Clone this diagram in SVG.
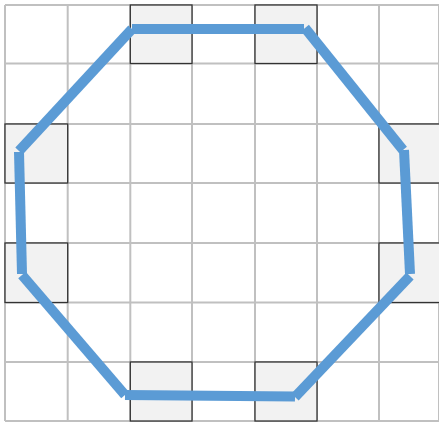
<svg xmlns="http://www.w3.org/2000/svg" width="439" height="423" viewBox="0 0 439 423">
<style>
.grid{stroke:#c0c0c0;stroke-width:2;fill:none}
.cell{fill:#f2f2f2;stroke:#333;stroke-width:1.3}
.edge{stroke:#5b9bd5;stroke-width:10;stroke-linecap:butt;fill:none}
</style>
<rect width="439" height="423" fill="#fff"/>
<g id="grid" class="grid">
<line x1="5" y1="5" x2="5" y2="421"/>
<line x1="67.7" y1="5" x2="67.7" y2="421"/>
<line x1="130.3" y1="5" x2="130.3" y2="421"/>
<line x1="192" y1="5" x2="192" y2="421"/>
<line x1="255" y1="5" x2="255" y2="421"/>
<line x1="317" y1="5" x2="317" y2="421"/>
<line x1="379" y1="5" x2="379" y2="421"/>
<line x1="439" y1="5" x2="439" y2="421"/>
<line x1="5" y1="5" x2="439" y2="5"/>
<line x1="5" y1="63.5" x2="439" y2="63.5"/>
<line x1="5" y1="124" x2="439" y2="124"/>
<line x1="5" y1="183" x2="439" y2="183"/>
<line x1="5" y1="243" x2="439" y2="243"/>
<line x1="5" y1="302.5" x2="439" y2="302.5"/>
<line x1="5" y1="362" x2="439" y2="362"/>
<line x1="5" y1="421" x2="439" y2="421"/>
</g>
<g id="n1"><rect class="cell" x="130.3" y="5" width="61.7" height="58.5"/></g>
<g id="n2"><rect class="cell" x="255" y="5" width="62" height="58.5"/></g>
<g id="n3"><rect class="cell" x="379" y="124" width="62" height="59"/></g>
<g id="n4"><rect class="cell" x="379" y="243" width="62" height="59.5"/></g>
<g id="n5"><rect class="cell" x="255" y="362" width="62" height="59"/></g>
<g id="n6"><rect class="cell" x="130.3" y="362" width="61.7" height="59"/></g>
<g id="n7"><rect class="cell" x="5" y="243" width="62.7" height="59.5"/></g>
<g id="n8"><rect class="cell" x="5" y="124" width="62.7" height="59"/></g>
<g id="connectors" class="edge">
<line x1="132" y1="29" x2="304" y2="29"/>
<line x1="305" y1="28" x2="403" y2="150"/>
<line x1="404" y1="150" x2="410" y2="274"/>
<line x1="410" y1="276" x2="295" y2="397"/>
<line x1="295" y1="396.5" x2="125" y2="395"/>
<line x1="125" y1="395" x2="22" y2="275"/>
<line x1="22" y1="274" x2="19" y2="152"/>
<line x1="19" y1="151" x2="132" y2="29"/>
</g>
</svg>
